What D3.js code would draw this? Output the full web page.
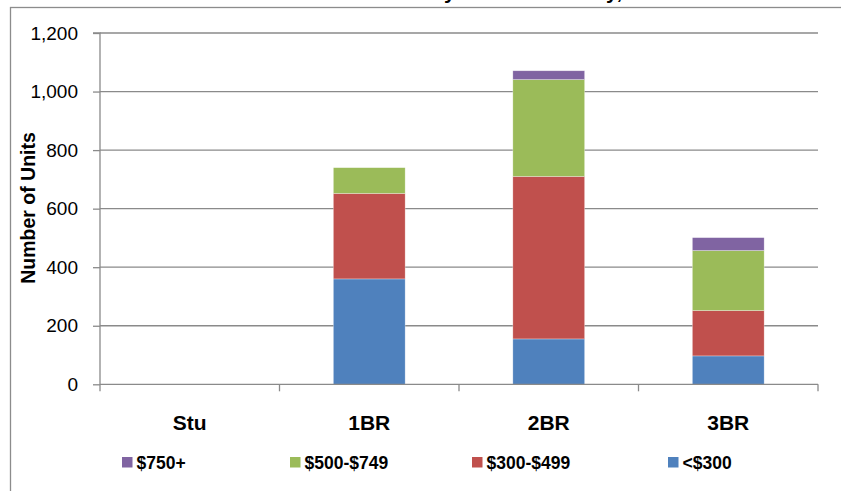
<!DOCTYPE html>
<html>
<head>
<meta charset="utf-8">
<script src="https://cdn.jsdelivr.net/npm/d3@7"></script>
<style>
html,body{margin:0;padding:0;background:#fff;overflow:hidden;}
svg{display:block;}
</style>
</head>
<body>
<svg id="chart" width="841" height="491"></svg>
<script>
// ---- data ----
const categories = ["Stu", "1BR", "2BR", "3BR"];
const seriesNames = ["<$300", "$300-$499", "$500-$749", "$750+"];
const under300 = [0, 360, 155, 97];
const r300to499 = [0, 292, 555, 155];
const r500to749 = [0, 88, 331, 205];
const over750 = [0, 0, 30, 44];
const yTicks = [0, 200, 400, 600, 800, 1000, 1200];
const legendOrder = ["$750+", "$500-$749", "$300-$499", "<$300"];
const titleText = "Affordable Units by Rent in County, 2010";
const yTitle = "Number of Units";

const colors = {"<$300": "#4F81BD", "$300-$499": "#C0504D", "$500-$749": "#9BBB59", "$750+": "#8064A2"};
const seriesValues = [under300, r300to499, r500to749, over750];

const svg = d3.select("#chart");
const font = "'Liberation Sans', Arial, sans-serif";
const gridColor = "#8a8a8a";

// chart frame (cut off at right and bottom)
svg.append("rect").attr("x", 10.5).attr("y", 7.5).attr("width", 900).attr("height", 600)
  .attr("fill", "none").attr("stroke", "#8c8c8c").attr("stroke-width", 1.3);

const x0 = 100, x1 = 818, yBase = 384.3, yTop = 33;
const x = d3.scaleBand().domain(categories).range([x0, x1]).paddingInner(0.6).paddingOuter(0.3);
const y = d3.scaleLinear().domain([0, 1200]).range([yBase, yTop]);

// gridlines
svg.append("g").selectAll("line").data(yTicks.filter(d => d > 0)).join("line")
  .attr("x1", x0).attr("x2", x1).attr("y1", d => y(d)).attr("y2", d => y(d))
  .attr("stroke", gridColor).attr("stroke-width", 1.3);

// stacked data
const table = categories.map((c, i) => {
  const o = {cat: c};
  seriesNames.forEach((s, j) => o[s] = seriesValues[j][i]);
  return o;
});
const stack = d3.stack().keys(seriesNames)(table);

svg.append("g").selectAll("g").data(stack).join("g")
  .attr("fill", d => colors[d.key])
  .selectAll("rect").data(d => d).join("rect")
  .attr("x", d => x(d.data.cat))
  .attr("width", x.bandwidth())
  .attr("y", d => y(d[1]))
  .attr("height", d => Math.max(0, y(d[0]) - y(d[1])))
  .attr("stroke", "rgba(255,255,255,0.5)").attr("stroke-width", 0.6);

// y axis
const yAxis = d3.axisLeft(y).tickValues(yTicks).tickSize(7).tickPadding(15)
  .tickFormat(d3.format(","));
const gy = svg.append("g").attr("transform", `translate(${x0},0)`).call(yAxis);
gy.select(".domain").attr("stroke", gridColor).attr("stroke-width", 1.3).attr("d", `M-7,${yTop}H0V${yBase}`);
gy.selectAll(".tick line").attr("stroke", gridColor).attr("stroke-width", 1.3);
gy.selectAll(".tick text").attr("font-family", font).attr("font-size", 19).attr("fill", "#000");

// x axis line and category boundary ticks
const bx = [x0].concat(categories.map(c => x(c) + x.bandwidth() + x.step() * 0.3));
svg.append("line").attr("x1", x0).attr("x2", x1).attr("y1", yBase).attr("y2", yBase)
  .attr("stroke", gridColor).attr("stroke-width", 1.3);
svg.append("g").selectAll("line").data(bx).join("line")
  .attr("x1", d => d).attr("x2", d => d).attr("y1", yBase).attr("y2", yBase + 7)
  .attr("stroke", gridColor).attr("stroke-width", 1.3);

// category labels
svg.append("g").selectAll("text").data(categories).join("text")
  .attr("x", d => x(d) + x.bandwidth() / 2).attr("y", 429.5)
  .attr("text-anchor", "middle").attr("font-family", font).attr("font-weight", "bold")
  .attr("font-size", 21).text(d => d);

// y title
svg.append("text").attr("transform", "translate(35,208) rotate(-90)")
  .attr("text-anchor", "middle").attr("font-family", font).attr("font-weight", "bold")
  .attr("font-size", 19.5).text(yTitle);

// legend
const legX = [122, 290, 472, 668];
const lg = svg.append("g").selectAll("g").data(legendOrder).join("g")
  .attr("transform", (d, i) => `translate(${legX[i]},457)`);
lg.append("rect").attr("width", 10.5).attr("height", 10.5).attr("fill", d => colors[d]);
lg.append("text").attr("x", 14.5).attr("y", 11.5).attr("font-family", font).attr("font-weight", "bold")
  .attr("font-size", 17.5).text(d => d);

// title (mostly cut off above the picture, only descenders visible)
const t = svg.append("text").attr("x", 0).attr("y", -1).attr("font-family", font)
  .attr("font-weight", "bold").attr("font-size", 21).text(titleText);
const i1 = titleText.indexOf("by") + 1;
const i2 = titleText.indexOf("County") + 5;
const p1 = t.node().getStartPositionOfChar(i1).x;
const p2 = t.node().getStartPositionOfChar(i2).x;
const ls = (162 - (p2 - p1)) / (i2 - i1);
t.attr("letter-spacing", ls);
const q1 = t.node().getStartPositionOfChar(i1).x;
t.attr("x", 444 - q1);
</script>
</body>
</html>
